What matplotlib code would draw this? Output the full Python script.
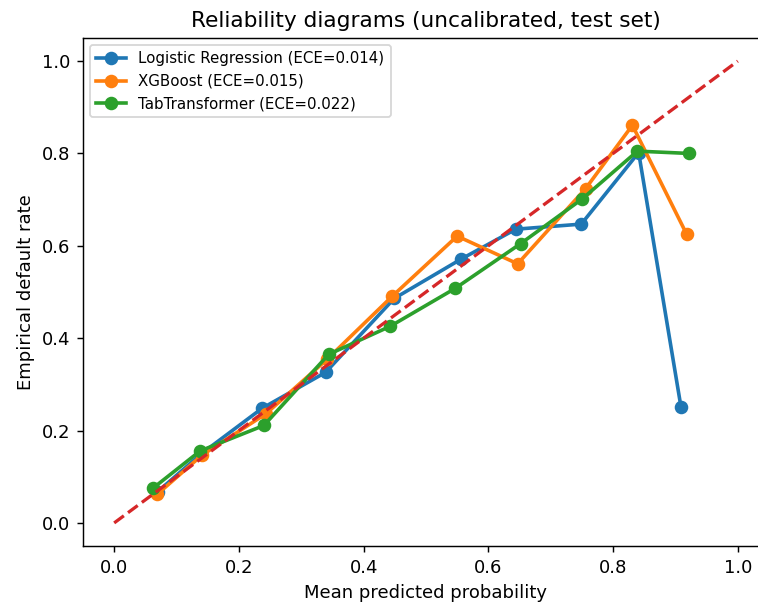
import matplotlib
matplotlib.use("Agg")
import matplotlib.pyplot as plt

# Data
lr_x = [0.070, 0.140, 0.237, 0.339, 0.449, 0.556, 0.644, 0.749, 0.841, 0.909]
lr_y = [0.068, 0.150, 0.248, 0.326, 0.486, 0.571, 0.636, 0.647, 0.802, 0.250]

xgb_x = [0.069, 0.141, 0.243, 0.342, 0.446, 0.550, 0.647, 0.756, 0.831, 0.918]
xgb_y = [0.062, 0.147, 0.236, 0.355, 0.491, 0.621, 0.561, 0.724, 0.861, 0.625]

tab_x = [0.062, 0.138, 0.240, 0.344, 0.443, 0.547, 0.652, 0.750, 0.839, 0.922]
tab_y = [0.075, 0.156, 0.211, 0.365, 0.426, 0.508, 0.605, 0.701, 0.805, 0.800]

names = ["Logistic Regression", "XGBoost", "TabTransformer"]
eces = [0.014, 0.015, 0.022]
diag = [0.0, 1.0]

DPI = 130
fig = plt.figure(figsize=(758 / DPI, 602 / DPI), dpi=DPI)
ax = fig.add_axes([0.1095, 0.0930, 0.905, 0.8439])

for (xs, ys), name, e, c in zip([(lr_x, lr_y), (xgb_x, xgb_y), (tab_x, tab_y)],
                                names, eces, ["#1f77b4", "#ff7f0e", "#2ca02c"]):
    ax.plot(xs, ys, marker="o", lw=2, markersize=6.5, color=c,
            label=f"{name} (ECE={e:.3f})")

ax.plot(diag, diag, "--", color="#d62728", lw=1.8)

ax.set_xlim(-0.05, 1.05)
ax.set_ylim(-0.05, 1.05)
ax.spines["right"].set_visible(False)
ax.set_xlabel("Mean predicted probability")
ax.set_ylabel("Empirical default rate")
ax.set_title("Reliability diagrams (uncalibrated, test set)")
ax.legend(loc="upper left", fontsize=8.3)

fig.savefig("out.png", dpi=DPI)
